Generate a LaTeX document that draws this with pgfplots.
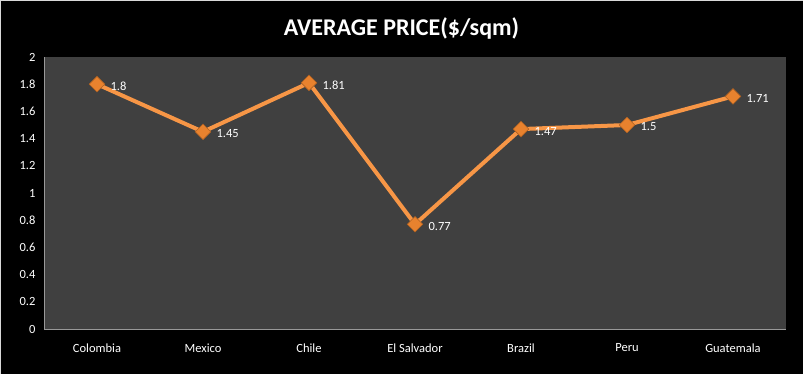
\documentclass[border=0pt]{standalone}
\usepackage{pgfplots}
\pgfplotsset{compat=1.18}
\usepackage{fontspec}
\setmainfont{Carlito}
\definecolor{plotbg}{HTML}{404040}
\definecolor{lineorange}{HTML}{F79646}
\definecolor{markorange}{HTML}{E8822E}
\begin{document}
\begin{tikzpicture}
\useasboundingbox (0pt,0pt) rectangle (803pt,374pt);
\fill[black] (0pt,0pt) rectangle (803pt,374pt);
\draw[white!85!black, line width=1pt] (0.5pt,0pt) -- (0.5pt,373.5pt) -- (803pt,373.5pt);
\node[text=white,font=\fontsize{24}{28}\selectfont\bfseries] at (401.5pt,346pt) {AVERAGE PRICE(\$/sqm)};
\begin{axis}[
  at={(44pt,45pt)}, anchor=south west,
  scale only axis, width=742pt, height=272pt,
  xmin=-0.5, xmax=6.5, ymin=0, ymax=2,
  axis background/.style={fill=plotbg},
  axis x line*=bottom, axis y line*=left,
  axis line style={draw=gray!80, line width=0.8pt, -},
  xtick={0,1,2,3,4,5,6},
  xticklabels={Colombia,Mexico,Chile,El Salvador,Brazil,Peru,Guatemala},
  ytick={0,0.2,0.4,0.6,0.8,1,1.2,1.4,1.6,1.8,2},
  yticklabels={0,0.2,0.4,0.6,0.8,1,1.2,1.4,1.6,1.8,2},
  major tick length=0pt,
  tick label style={text=white, font=\fontsize{12.5}{14}\selectfont},
  yticklabel style={xshift=-5pt},
  xticklabel style={yshift=-11pt},
  nodes near coords,
  point meta=explicit symbolic,
  every node near coord/.style={anchor=west, xshift=10pt, yshift=-2pt, text=white, font=\fontsize{12.5}{14}\selectfont},
  clip=false,
]
\addplot[color=lineorange, line width=4pt, mark=square*, mark size=5.5pt,
  mark options={rotate=45, fill=markorange, draw=markorange!75!black, line width=0.6pt}]
  coordinates {
  (0,1.80) [1.8]
  (1,1.45) [1.45]
  (2,1.81) [1.81]
  (3,0.77) [0.77]
  (4,1.47) [1.47]
  (5,1.50) [1.5]
  (6,1.71) [1.71]
  };
\end{axis}
\end{tikzpicture}
\end{document}
